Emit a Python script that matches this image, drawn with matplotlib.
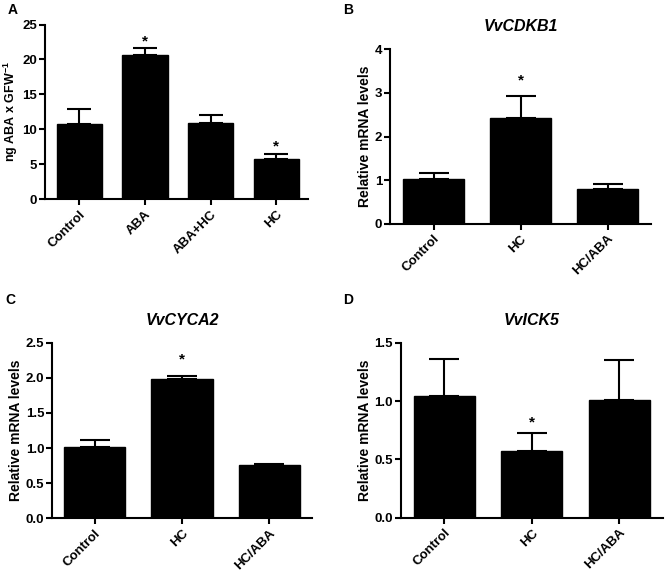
import matplotlib
matplotlib.use("Agg")
import matplotlib.pyplot as plt

plt.rcParams['font.family'] = ['Liberation Sans', 'DejaVu Sans']
plt.rcParams['font.weight'] = 'bold'
plt.rcParams['mathtext.fontset'] = 'custom'
plt.rcParams['mathtext.bf'] = 'Liberation Sans:bold'
plt.rcParams['mathtext.rm'] = 'Liberation Sans:bold'

# Panel A
a_cats = ["Control", "ABA", "ABA+HC", "HC"]
a_vals = [10.7, 20.6, 10.9, 5.7]
a_errs = [2.2, 1.0, 1.2, 0.8]
a_sig = [False, True, False, True]
a_ticks = [0, 5, 10, 15, 20, 25]
a_ticklabels = ["0", "5", "10", "15", "20", "25"]

# Panel B
b_title = "VvCDKB1"
b_cats = ["Control", "HC", "HC/ABA"]
b_vals = [1.02, 2.43, 0.80]
b_errs = [0.15, 0.51, 0.10]
b_sig = [False, True, False]
b_ticks = [0, 1, 2, 3, 4]
b_ticklabels = ["0", "1", "2", "3", "4"]

# Panel C
c_title = "VvCYCA2"
c_cats = ["Control", "HC", "HC/ABA"]
c_vals = [1.02, 1.98, 0.76]
c_errs = [0.09, 0.05, 0.02]
c_sig = [False, True, False]
c_ticks = [0.0, 0.5, 1.0, 1.5, 2.0, 2.5]
c_ticklabels = ["0.0", "0.5", "1.0", "1.5", "2.0", "2.5"]

# Panel D
d_title = "VvICK5"
d_cats = ["Control", "HC", "HC/ABA"]
d_vals = [1.04, 0.57, 1.01]
d_errs = [0.32, 0.16, 0.34]
d_sig = [False, True, False]
d_ticks = [0.0, 0.5, 1.0, 1.5]
d_ticklabels = ["0.0", "0.5", "1.0", "1.5"]

W, H = 666, 575
fig = plt.figure(figsize=(W / 100, H / 100), dpi=100)


def px_axes(left, top, right, bottom):
    return fig.add_axes([left / W, 1 - bottom / H, (right - left) / W, (bottom - top) / H])


def panel(ax, cats, vals, errs, sig, ticks, ticklabels, xlim, width, capsize,
          star_off, ylabel, ylabel_size, title=None):
    x = list(range(len(cats)))
    ax.bar(x, vals, width=width, color='black', edgecolor='black', zorder=2)
    ax.errorbar(x, vals, yerr=[[0] * len(vals), errs], fmt='none', ecolor='black',
                elinewidth=1.5, capsize=capsize, capthick=1.5, zorder=1)
    for xi, v, e, s in zip(x, vals, errs, sig):
        if s:
            ax.annotate('*', (xi, v + e), xytext=(0, star_off), textcoords='offset points',
                        ha='center', va='center', fontsize=11, fontweight='bold')
    ax.set_xlim(*xlim)
    ax.set_ylim(ticks[0], ticks[-1])
    ax.set_yticks(ticks)
    ax.set_yticklabels(ticklabels, fontsize=9.5, fontweight='bold')
    ax.set_xticks(x)
    ax.set_xticklabels(cats, rotation=45, ha='right', rotation_mode='anchor',
                       fontsize=9.5, fontweight='bold')
    for s in ['top', 'right']:
        ax.spines[s].set_visible(False)
    for s in ['left', 'bottom']:
        ax.spines[s].set_linewidth(1.5)
    ax.tick_params(axis='both', width=1.5, length=4.5)
    ax.tick_params(axis='y', pad=1)
    ax.tick_params(axis='x', pad=2)
    ax.set_ylabel(ylabel, fontsize=ylabel_size, fontweight='bold', labelpad=2)
    if title:
        ax.set_title(title, fontsize=11.5, fontweight='bold', fontstyle='italic', pad=13)


axA = px_axes(45, 24.5, 308, 199)
panel(axA, a_cats, a_vals, a_errs, a_sig, a_ticks, a_ticklabels, (-0.52, 3.48), 0.69, 8.5,
      5, r'ng ABA x GFW$^{\mathbf{-1}}$', 9)

axB = px_axes(390, 49.3, 651, 223.7)
panel(axB, b_cats, b_vals, b_errs, b_sig, b_ticks, b_ticklabels, (-0.5, 2.5), 0.70, 11,
      11, 'Relative mRNA levels', 10, b_title)

axC = px_axes(52, 342.7, 312, 518.3)
panel(axC, c_cats, c_vals, c_errs, c_sig, c_ticks, c_ticklabels, (-0.49, 2.49), 0.70, 11,
      12, 'Relative mRNA levels', 10, c_title)

axD = px_axes(400.7, 342.7, 663, 517.7)
panel(axD, d_cats, d_vals, d_errs, d_sig, d_ticks, d_ticklabels, (-0.5, 2.5), 0.70, 11,
      7, 'Relative mRNA levels', 10, d_title)

for lbl, (px, py) in zip("ABCD", [(8, 10), (343, 10), (5, 300), (343, 300)]):
    fig.text(px / W, 1 - py / H, lbl, fontsize=10, fontweight='bold', ha='left', va='center')

fig.savefig('out.png', dpi=100)
